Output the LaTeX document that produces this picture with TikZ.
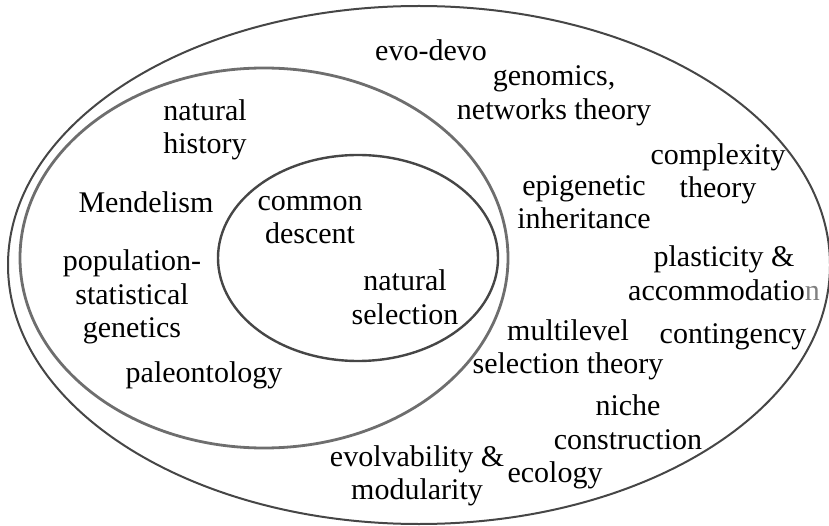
\documentclass[tikz,border=0pt]{standalone}
\usepackage{fontspec}
\setmainfont{Liberation Serif}
\usetikzlibrary{positioning}
\definecolor{ringdark}{RGB}{70,70,70}
\definecolor{ringmid}{RGB}{110,110,110}
\tikzset{
  topic/.style={align=center, inner sep=0pt, font=\fontsize{30}{33.5}\selectfont},
  ringouter/.style={draw=ringdark, line width=2pt},
  ringmiddle/.style={draw=ringmid, line width=2.8pt},
  ringinner/.style={draw=ringdark, line width=2.4pt},
}

\begin{document}
\begin{tikzpicture}[x=1pt, y=-1pt]
  \useasboundingbox (0,0) rectangle (829,526);
  % three nested fields
  \coordinate (co) at (419,265);
  \coordinate (cm) at (264,258);
  \coordinate (ci) at (358,258);
  \draw[ringouter]  (co) ellipse (411 and 259);
  \draw[ringmiddle] (cm) ellipse (244 and 190);
  \draw[ringinner]  (ci) ellipse (140 and 103);
  % core
  \node[topic] (descent)   at (310,220) {common\\descent};
  \node[topic] (selection) at (405,297) {natural\\selection};
  % modern synthesis
  \node[topic] (history)   at (205,130) {natural\\history};
  \node[topic] (mendel)    at (146,202) {Mendelism};
  \node[topic] (popgen)    at (132,297) {population-\\statistical\\genetics};
  \node[topic] (paleo)     at (204,375) {paleontology};
  % extended synthesis
  \node[topic] (evodevo)   at (431,50)  {evo-devo};
  \node[topic] (genomics)  at (554,96)  {genomics,\\networks theory};
  \node[topic] (complex)   at (718,174) {complexity\\theory};
  \node[topic] (epigen)    at (584,202) {epigenetic\\inheritance};
  \node[topic] (plastic)   at (724,273) {plasticity \&\\accommodatio{\color{gray}n}};
  \node[topic] (multi)     at (568,350) {multilevel\\selection theory};
  \node[topic] (conting)   at (733,337) {contingency};
  \node[topic] (niche)     at (628,422) {niche\\construction};
  \node[topic] (evolv)     at (417,476) {evolvability \&\\modularity};
  \node[topic] (ecology)   at (555,475) {ecology};
\end{tikzpicture}
\end{document}
